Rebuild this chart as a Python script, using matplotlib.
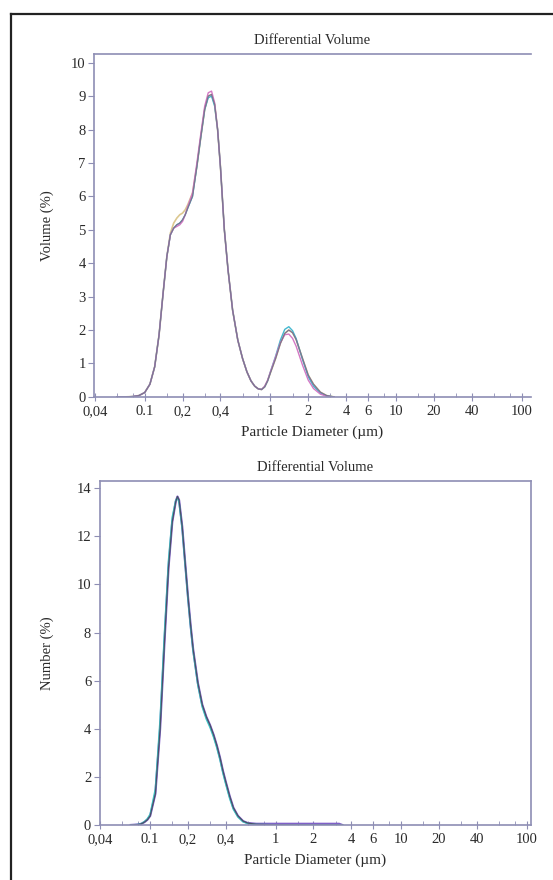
import matplotlib.pyplot as plt
from matplotlib.lines import Line2D
from matplotlib.ticker import FixedLocator, NullFormatter

# particle diameters (um) for the volume curves
x_vol = [0.06, 0.07, 0.08, 0.09, 0.10, 0.11, 0.12, 0.13, 0.14, 0.15, 0.16, 0.17,
         0.18, 0.19, 0.20, 0.21, 0.22, 0.24, 0.26, 0.28, 0.30, 0.32, 0.34, 0.36,
         0.38, 0.40, 0.43, 0.46, 0.50, 0.55, 0.60, 0.65, 0.70, 0.75, 0.80, 0.85,
         0.90, 0.95, 1.0, 1.1, 1.2, 1.3, 1.4, 1.5, 1.6, 1.8, 2.0, 2.2, 2.5, 2.8, 3.2]

vol_gray = [0.0, 0.0, 0.01, 0.04, 0.13, 0.38, 0.9, 1.85, 3.1, 4.2, 4.85, 5.05,
            5.15, 5.2, 5.3, 5.45, 5.65, 6.0, 6.9, 7.8, 8.6, 9.0, 9.05, 8.75,
            8.0, 6.9, 5.0, 3.8, 2.6, 1.7, 1.15, 0.75, 0.48, 0.32, 0.24, 0.22,
            0.3, 0.48, 0.72, 1.15, 1.6, 1.9, 2.0, 1.92, 1.72, 1.15, 0.65, 0.38, 0.14, 0.04, 0.0]

vol_pink = [0.0, 0.0, 0.01, 0.04, 0.13, 0.38, 0.9, 1.85, 3.1, 4.2, 4.85, 5.05,
            5.1, 5.15, 5.25, 5.45, 5.7, 6.1, 7.0, 7.9, 8.7, 9.1, 9.15, 8.8,
            8.0, 6.9, 5.0, 3.8, 2.6, 1.7, 1.15, 0.75, 0.48, 0.32, 0.24, 0.22,
            0.32, 0.5, 0.75, 1.2, 1.62, 1.86, 1.88, 1.75, 1.52, 0.95, 0.5, 0.25, 0.08, 0.02, 0.0]

vol_cyan = [0.0, 0.0, 0.01, 0.04, 0.13, 0.38, 0.9, 1.85, 3.1, 4.2, 4.85, 5.05,
            5.15, 5.2, 5.3, 5.45, 5.65, 6.0, 6.9, 7.8, 8.6, 8.95, 9.0, 8.7,
            8.0, 6.9, 5.0, 3.8, 2.6, 1.7, 1.15, 0.75, 0.48, 0.32, 0.24, 0.22,
            0.3, 0.48, 0.75, 1.22, 1.7, 2.02, 2.1, 1.98, 1.75, 1.12, 0.6, 0.32, 0.11, 0.03, 0.0]

vol_tan = [0.0, 0.0, 0.01, 0.04, 0.13, 0.38, 0.9, 1.85, 3.1, 4.2, 4.9, 5.2,
           5.35, 5.45, 5.5, 5.6, 5.75, 6.1, 6.9, 7.8, 8.6, 9.0, 9.05, 8.75,
           8.0, 6.9, 5.0, 3.8, 2.6, 1.7, 1.15, 0.75, 0.48, 0.32, 0.24, 0.22,
           0.3, 0.48, 0.72, 1.15, 1.6, 1.9, 2.0, 1.92, 1.72, 1.15, 0.65, 0.38, 0.14, 0.04, 0.0]

# particle diameters (um) for the number curves
x_num = [0.07, 0.08, 0.085, 0.09, 0.095, 0.10, 0.11, 0.12, 0.13, 0.14, 0.15, 0.16,
         0.165, 0.17, 0.18, 0.19, 0.20, 0.21, 0.22, 0.24, 0.26, 0.28, 0.30, 0.32,
         0.34, 0.36, 0.38, 0.40, 0.43, 0.46, 0.50, 0.55, 0.60, 0.70, 1.0, 2.0, 3.2, 3.4]

num_dark = [0.0, 0.02, 0.05, 0.12, 0.22, 0.38, 1.3, 4.0, 7.6, 10.7, 12.6, 13.45,
            13.65, 13.5, 12.4, 10.9, 9.5, 8.3, 7.3, 5.9, 5.0, 4.5, 4.15, 3.75,
            3.3, 2.8, 2.25, 1.8, 1.2, 0.72, 0.38, 0.16, 0.08, 0.03, 0.01, 0.0, 0.0, 0.0]

num_cyan = [0.0, 0.02, 0.06, 0.14, 0.26, 0.45, 1.5, 4.4, 8.0, 11.0, 12.8, 13.5,
            13.6, 13.4, 12.3, 10.8, 9.4, 8.2, 7.2, 5.8, 4.9, 4.4, 4.05, 3.65,
            3.2, 2.7, 2.15, 1.7, 1.1, 0.65, 0.33, 0.13, 0.06, 0.02, 0.01, 0.0, 0.0, 0.0]

num_purple = [0.0, 0.02, 0.05, 0.12, 0.22, 0.38, 1.3, 4.0, 7.6, 10.7, 12.6, 13.45,
              13.65, 13.5, 12.4, 10.9, 9.5, 8.3, 7.3, 5.9, 5.0, 4.5, 4.15, 3.75,
              3.3, 2.8, 2.25, 1.8, 1.2, 0.72, 0.38, 0.16, 0.08, 0.05, 0.05, 0.05, 0.05, 0.0]

tick_pos = [0.04, 0.1, 0.2, 0.4, 1, 2, 4, 6, 10, 20, 40, 100]
tick_lab = ['0,04', '0.1', '0,2', '0,4', '1', '2', '4', '6', '10', '20', '40', '100']
minor_pos = [0.06, 0.08, 0.15, 0.3, 0.6, 0.8, 1.5, 3, 8, 15, 30, 60, 80]

plt.rcParams['font.family'] = ['Liberation Serif', 'DejaVu Serif']
spine_col = '#8e8eb4'
text_col = '#2a2a2a'

fig = plt.figure(figsize=(5.53, 8.8), dpi=100)
ax1 = fig.add_axes([0.170, 0.549, 0.790, 0.390])
ax2 = fig.add_axes([0.180, 0.0625, 0.780, 0.391])


def style(ax, xmin, xmax, ymax, yticks, ylabel, right):
    ax.set_xscale('log')
    ax.set_xlim(xmin, xmax)
    ax.set_ylim(0, ymax)
    ax.xaxis.set_major_locator(FixedLocator(tick_pos))
    ax.set_xticklabels(tick_lab)
    ax.xaxis.set_minor_locator(FixedLocator(minor_pos))
    ax.xaxis.set_minor_formatter(NullFormatter())
    ax.set_yticks(yticks)
    for s in ax.spines.values():
        s.set_color(spine_col)
        s.set_linewidth(1.2)
    ax.spines['right'].set_visible(right)
    ax.tick_params(axis='x', which='major', direction='inout', length=6, color=spine_col,
                   labelsize=10.5, labelcolor=text_col, pad=3)
    ax.tick_params(axis='x', which='minor', direction='in', length=3, color=spine_col)
    ax.tick_params(axis='y', direction='out', length=4, color=spine_col,
                   labelsize=10.5, labelcolor=text_col, pad=2)
    ax.set_title('Differential Volume', fontsize=10.5, color=text_col, pad=7)
    ax.set_xlabel('Particle Diameter (\u00b5m)', fontsize=11, color=text_col, labelpad=5)
    ax.set_ylabel(ylabel, fontsize=10.5, color=text_col)


style(ax1, 0.0395, 118, 10.27, range(0, 11), 'Volume (%)', False)
ax1.yaxis.set_label_coords(-0.092, 0.5)
ax1.plot(x_vol, vol_tan, color='#dcc890', lw=1.2)
ax1.plot(x_vol, vol_cyan, color='#45b8d0', lw=1.0)
ax1.plot(x_vol, vol_pink, color='#d478c4', lw=1.0)
ax1.plot(x_vol, vol_gray, color='#7c7490', lw=0.9)

style(ax2, 0.0395, 108, 14.3, range(0, 15, 2), 'Number (%)', True)
ax2.yaxis.set_label_coords(-0.105, 0.5)
ax2.plot(x_num, num_purple, color='#8060c8', lw=1.6)
ax2.plot(x_num, num_cyan, color='#40c8c8', lw=1.1)
ax2.plot(x_num, num_dark, color='#4a5068', lw=0.9)

# frame around the figure (cropped on the right and bottom)
fig.add_artist(Line2D([0.0192, 1.0], [0.9843, 0.9843], color='#222222', lw=1.6))
fig.add_artist(Line2D([0.0192, 0.0192], [0.0, 0.9843], color='#222222', lw=1.6))

fig.savefig('out.png', dpi=100, facecolor='white')
